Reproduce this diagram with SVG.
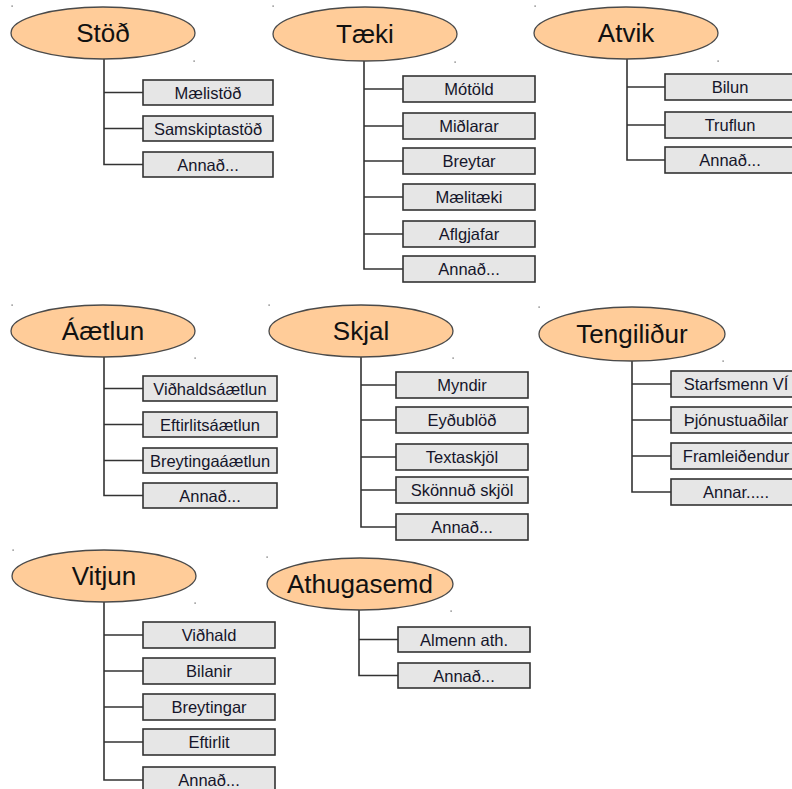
<svg xmlns="http://www.w3.org/2000/svg" width="792" height="789" viewBox="0 0 792 789">
<style>
.hd{fill:#FFCC99;stroke:#4a4a4a;stroke-width:1.3}
.bx{fill:#E6E6E6;stroke:#333;stroke-width:1.6}
.ht{font-family:"Liberation Sans",Arial,sans-serif;font-size:26px;fill:#111;text-anchor:middle}
.bt{font-family:"Liberation Sans",Arial,sans-serif;font-size:16.5px;fill:#15152a;text-anchor:middle}
.cn{fill:none;stroke:#333;stroke-width:1.6}
.dt{fill:#555}
</style>
<rect width="792" height="789" fill="#fff"/>
<g id="connectors" class="cn">
<path d="M104 59V164.5H143M104 92.5H143M104 128.5H143"/>
<path d="M364 61V269H403M364 89H403M364 126H403M364 161H403M364 197H403M364 234H403"/>
<path d="M627 59V160H665M627 87H665M627 125H665"/>
<path d="M104 357V495.5H143M104 388.5H143M104 424.5H143M104 460.5H143"/>
<path d="M361 357V527H396M361 385H396M361 420H396M361 457H396M361 490H396"/>
<path d="M632 361V492H671M632 384H671M632 420H671M632 456H671"/>
<path d="M104 602V780H143M104 635H143M104 671H143M104 707H143M104 742H143"/>
<path d="M359 610V675.5H398M359 639.5H398"/>
</g>
<g id="dots" class="dt">
<rect x="11.5" y="5.5" width="1.2" height="1.2"/><rect x="193.5" y="60.5" width="1.2" height="1.2"/>
<rect x="272.5" y="5.5" width="1.2" height="1.2"/><rect x="454.5" y="61.5" width="1.2" height="1.2"/>
<rect x="534.5" y="5.5" width="1.2" height="1.2"/><rect x="717.5" y="60.5" width="1.2" height="1.2"/>
<rect x="11.5" y="304.5" width="1.2" height="1.2"/><rect x="194.5" y="357.5" width="1.2" height="1.2"/>
<rect x="268.5" y="304.5" width="1.2" height="1.2"/><rect x="452.5" y="357.5" width="1.2" height="1.2"/>
<rect x="538.5" y="306.5" width="1.2" height="1.2"/><rect x="722.5" y="360.5" width="1.2" height="1.2"/>
<rect x="12.5" y="549.5" width="1.2" height="1.2"/><rect x="194.5" y="602.5" width="1.2" height="1.2"/>
<rect x="266.5" y="556.5" width="1.2" height="1.2"/><rect x="450.5" y="610.5" width="1.2" height="1.2"/>
</g>
<g id="stod"><ellipse class="hd" cx="103" cy="33" rx="92" ry="26"/><text class="ht" x="103" y="42">Stöð</text></g>
<g id="stod-1"><rect class="bx" x="143" y="80" width="130" height="25"/><text class="bt" x="208" y="98.5">Mælistöð</text></g>
<g id="stod-2"><rect class="bx" x="143" y="116" width="130" height="25"/><text class="bt" x="208" y="134.5">Samskiptastöð</text></g>
<g id="stod-3"><rect class="bx" x="143" y="152" width="130" height="25"/><text class="bt" x="208" y="170.5">Annað...</text></g>

<g id="taeki"><ellipse class="hd" cx="365" cy="34" rx="92" ry="27"/><text class="ht" x="365" y="43">Tæki</text></g>
<g id="taeki-1"><rect class="bx" x="403" y="76" width="132" height="26"/><text class="bt" x="469" y="95">Mótöld</text></g>
<g id="taeki-2"><rect class="bx" x="403" y="113" width="132" height="26"/><text class="bt" x="469" y="132">Miðlarar</text></g>
<g id="taeki-3"><rect class="bx" x="403" y="148" width="132" height="26"/><text class="bt" x="469" y="167">Breytar</text></g>
<g id="taeki-4"><rect class="bx" x="403" y="184" width="132" height="26"/><text class="bt" x="469" y="203">Mælitæki</text></g>
<g id="taeki-5"><rect class="bx" x="403" y="221" width="132" height="26"/><text class="bt" x="469" y="240">Aflgjafar</text></g>
<g id="taeki-6"><rect class="bx" x="403" y="256" width="132" height="26"/><text class="bt" x="469" y="275">Annað...</text></g>

<g id="atvik"><ellipse class="hd" cx="626" cy="33" rx="92" ry="26"/><text class="ht" x="626" y="42">Atvik</text></g>
<g id="atvik-1"><rect class="bx" x="665" y="74" width="130" height="26"/><text class="bt" x="730" y="93">Bilun</text></g>
<g id="atvik-2"><rect class="bx" x="665" y="112" width="130" height="26"/><text class="bt" x="730" y="131">Truflun</text></g>
<g id="atvik-3"><rect class="bx" x="665" y="147" width="130" height="26"/><text class="bt" x="730" y="166">Annað...</text></g>

<g id="aaetlun"><ellipse class="hd" cx="103" cy="331" rx="92" ry="26"/><text class="ht" x="103" y="340">Áætlun</text></g>
<g id="aaetlun-1"><rect class="bx" x="143" y="376" width="134" height="25"/><text class="bt" x="210" y="394.5">Viðhaldsáætlun</text></g>
<g id="aaetlun-2"><rect class="bx" x="143" y="412" width="134" height="25"/><text class="bt" x="210" y="430.5">Eftirlitsáætlun</text></g>
<g id="aaetlun-3"><rect class="bx" x="143" y="448" width="134" height="25"/><text class="bt" x="210" y="466.5">Breytingaáætlun</text></g>
<g id="aaetlun-4"><rect class="bx" x="143" y="483" width="134" height="25"/><text class="bt" x="210" y="501.5">Annað...</text></g>

<g id="skjal"><ellipse class="hd" cx="361" cy="331" rx="92" ry="26"/><text class="ht" x="361" y="340">Skjal</text></g>
<g id="skjal-1"><rect class="bx" x="396" y="372" width="132" height="26"/><text class="bt" x="462" y="391">Myndir</text></g>
<g id="skjal-2"><rect class="bx" x="396" y="407" width="132" height="26"/><text class="bt" x="462" y="426">Eyðublöð</text></g>
<g id="skjal-3"><rect class="bx" x="396" y="444" width="132" height="26"/><text class="bt" x="462" y="463">Textaskjöl</text></g>
<g id="skjal-4"><rect class="bx" x="396" y="477" width="132" height="26"/><text class="bt" x="462" y="496">Skönnuð skjöl</text></g>
<g id="skjal-5"><rect class="bx" x="396" y="514" width="132" height="26"/><text class="bt" x="462" y="533">Annað...</text></g>

<g id="tengilidur"><ellipse class="hd" cx="632" cy="334" rx="93" ry="27"/><text class="ht" x="632" y="343">Tengiliður</text></g>
<g id="tengilidur-1"><rect class="bx" x="671" y="371" width="130" height="26"/><text class="bt" x="736" y="390">Starfsmenn VÍ</text></g>
<g id="tengilidur-2"><rect class="bx" x="671" y="407" width="130" height="26"/><text class="bt" x="736" y="426">Þjónustuaðilar</text></g>
<g id="tengilidur-3"><rect class="bx" x="671" y="443" width="130" height="26"/><text class="bt" x="736" y="462">Framleiðendur</text></g>
<g id="tengilidur-4"><rect class="bx" x="671" y="479" width="130" height="26"/><text class="bt" x="736" y="498">Annar.....</text></g>

<g id="vitjun"><ellipse class="hd" cx="104" cy="576" rx="92" ry="26"/><text class="ht" x="104" y="585">Vitjun</text></g>
<g id="vitjun-1"><rect class="bx" x="143" y="622" width="132" height="26"/><text class="bt" x="209" y="641">Viðhald</text></g>
<g id="vitjun-2"><rect class="bx" x="143" y="658" width="132" height="26"/><text class="bt" x="209" y="677">Bilanir</text></g>
<g id="vitjun-3"><rect class="bx" x="143" y="694" width="132" height="26"/><text class="bt" x="209" y="713">Breytingar</text></g>
<g id="vitjun-4"><rect class="bx" x="143" y="729" width="132" height="26"/><text class="bt" x="209" y="748">Eftirlit</text></g>
<g id="vitjun-5"><rect class="bx" x="143" y="767" width="132" height="26"/><text class="bt" x="209" y="786">Annað...</text></g>

<g id="athugasemd"><ellipse class="hd" cx="360" cy="584" rx="93" ry="26"/><text class="ht" x="360" y="593">Athugasemd</text></g>
<g id="athugasemd-1"><rect class="bx" x="398" y="627" width="132" height="25"/><text class="bt" x="464" y="645.5">Almenn ath.</text></g>
<g id="athugasemd-2"><rect class="bx" x="398" y="663" width="132" height="25"/><text class="bt" x="464" y="681.5">Annað...</text></g>
</svg>
